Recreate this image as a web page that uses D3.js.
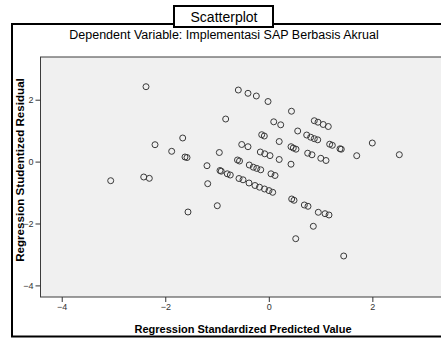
<!DOCTYPE html>
<html><head><meta charset="utf-8">
<script src="https://cdn.jsdelivr.net/npm/d3@7"></script>
<style>html,body{margin:0;padding:0;background:#fff;overflow:hidden}svg{display:block}</style>
</head><body>
<script>
const chartTitle = "Scatterplot";
const subTitle = "Dependent Variable: Implementasi SAP Berbasis Akrual";
const xTitle = "Regression Standardized Predicted Value";
const yTitle = "Regression Studentized Residual";
const xTicks = [-4, -2, 0, 2];
const yTicks = [-4, -2, 0, 2];
const predicted = [-2.372,-3.054,-2.416,-2.308,-2.198,-1.876,-1.663,-1.619,-1.580,-1.561,-1.194,-1.180,-0.995,-0.956,-0.833,-0.589,-0.402,-0.241,-0.015,0.438,0.095,0.230,0.879,0.950,1.051,1.149,0.558,-0.137,-0.087,0.732,0.809,0.879,0.945,0.201,-0.523,-0.402,1.176,1.227,1.375,1.400,1.999,0.429,0.473,0.525,-0.164,-0.079,0.023,0.751,0.834,1.698,2.521,0.201,1.004,1.105,-0.605,-0.566,0.429,-0.377,-0.299,-0.232,-0.156,0.042,0.120,-0.943,-0.919,-0.802,-0.744,-0.576,-0.498,-0.382,-0.267,-0.180,-0.083,0.004,0.075,0.442,0.487,0.686,0.757,0.956,1.086,1.163,0.860,0.520,1.447];
const residual = [2.420,-0.617,-0.498,-0.540,0.546,0.333,0.763,0.149,0.132,-1.628,-0.132,-0.714,-1.425,0.294,1.376,2.313,2.207,2.120,1.942,1.628,1.286,1.189,1.321,1.273,1.199,1.134,0.989,0.869,0.827,0.859,0.788,0.740,0.704,0.649,0.553,0.481,0.562,0.527,0.414,0.401,0.601,0.481,0.439,0.401,0.310,0.252,0.194,0.271,0.220,0.191,0.223,0.068,0.107,0.036,0.052,0.019,-0.084,-0.110,-0.181,-0.220,-0.265,-0.394,-0.449,-0.288,-0.310,-0.394,-0.433,-0.546,-0.588,-0.691,-0.772,-0.827,-0.885,-0.937,-0.992,-1.208,-1.250,-1.402,-1.444,-1.638,-1.683,-1.725,-2.090,-2.491,-3.050];

const W = 441, H = 338;
const svg = d3.select("body").append("svg").attr("width", W).attr("height", H);
const font = "'Liberation Sans', Arial, sans-serif";

const plot = {left: 40.5, right: 450, top: 57, bottom: 297};
const x = d3.scaleLinear().domain([-4.41, 3.5]).range([plot.left, plot.right]);
const y = d3.scaleLinear().domain([-4.375, 3.38]).range([plot.bottom, plot.top]);

// outer frame
svg.append("rect").attr("x", 12).attr("y", 24).attr("width", 460).attr("height", 312.5)
  .attr("fill", "#fff").attr("stroke", "#000").attr("stroke-width", 2);

// plot area
svg.append("rect").attr("x", plot.left).attr("y", plot.top)
  .attr("width", plot.right - plot.left).attr("height", plot.bottom - plot.top)
  .attr("fill", "#f0f0f0").attr("stroke", "#3c3c3c").attr("stroke-width", 1);

// title box
svg.append("rect").attr("x", 174).attr("y", 6).attr("width", 99).attr("height", 21)
  .attr("fill", "#fff").attr("stroke", "#000").attr("stroke-width", 2);
svg.append("text").attr("x", 224).attr("y", 21.5).attr("text-anchor", "middle")
  .attr("font-family", font).attr("font-size", 14).attr("fill", "#000").text(chartTitle);
svg.append("text").attr("x", 224).attr("y", 39).attr("text-anchor", "middle")
  .attr("font-family", font).attr("font-size", 12.5).attr("fill", "#000").text(subTitle);

// axes
const xAxis = d3.axisBottom(x).tickValues(xTicks).tickSize(5).tickPadding(2).tickFormat(d3.format("d"));
const gx = svg.append("g").attr("transform", `translate(0,${plot.bottom})`).call(xAxis);
gx.select(".domain").remove();
gx.selectAll("line").attr("stroke", "#333");
gx.selectAll("text").attr("font-family", font).attr("font-size", 9).attr("fill", "#333");

const yAxis = d3.axisLeft(y).tickValues(yTicks).tickSize(5).tickPadding(2).tickFormat(d3.format("d"));
const gy = svg.append("g").attr("transform", `translate(${plot.left},0)`).call(yAxis);
gy.select(".domain").remove();
gy.selectAll("line").attr("stroke", "#333");
gy.selectAll("text").attr("font-family", font).attr("font-size", 9).attr("fill", "#333");

// axis titles
svg.append("text").attr("x", 243).attr("y", 333).attr("text-anchor", "middle")
  .attr("font-family", font).attr("font-size", 11).attr("font-weight", "bold").attr("fill", "#000").text(xTitle);
svg.append("text").attr("transform", "translate(24,170) rotate(-90)").attr("text-anchor", "middle")
  .attr("font-family", font).attr("font-size", 11.6).attr("font-weight", "bold").attr("fill", "#000").text(yTitle);

// points
const pts = predicted.map((p, i) => ({p, r: residual[i]}));
svg.append("g").selectAll("circle").data(pts).join("circle")
  .attr("cx", d => x(d.p)).attr("cy", d => y(d.r)).attr("r", 3)
  .attr("fill", "none").attr("stroke", "#3a3a3a").attr("stroke-width", 1);
</script>
</body></html>
